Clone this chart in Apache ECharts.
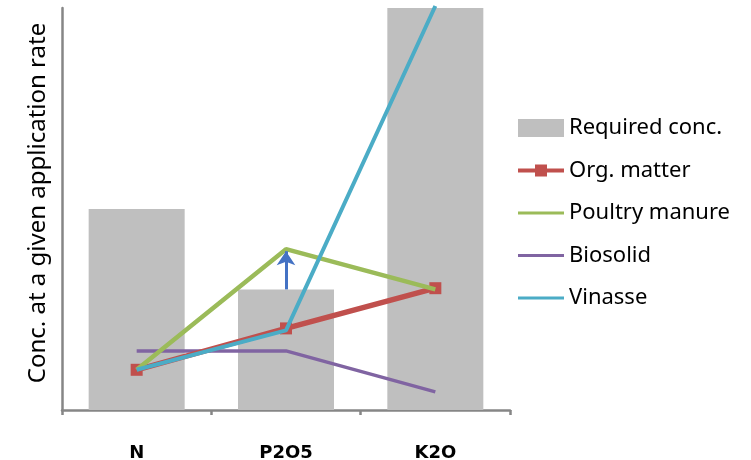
<!DOCTYPE html>
<html>
<head>
<meta charset="utf-8">
<script src="https://cdn.jsdelivr.net/npm/echarts@6/dist/echarts.min.js"></script>
<style>html,body{margin:0;padding:0;background:#fff}#c{width:751px;height:460px}</style>
</head>
<body>
<div id="c"></div>
<script>
var categories = ['N', 'P2O5', 'K2O'];
var requiredConc = [50, 30, 130];
var orgMatter = [10, 20.3, 30.3];
var poultryManure = [10, 40, 30];
var biosolid = [14.7, 14.7, 4.5];
var vinasse = [10, 19.8, 100.5];
var arrowFrom = 30;
var arrowTo = 39.5;
var yTitle = 'Conc. at a given application rate';

var bounds = 'M0,0h0.01v0.01h-0.01z M46,22h-0.01v-0.01h0.01z ';
var lineIcon = 'path://' + bounds + 'M0,9.5h46v3h-46z';
var markerIcon = 'path://' + bounds + 'M0,9h46v4h-46z M17,5h12v12h-12z';
var barIcon = 'path://' + bounds + 'M0,2h46v18h-46z';

var chart = echarts.init(document.getElementById('c'), null, {renderer: 'canvas'});
var font = 'Noto Sans';
chart.setOption({
  animation: false,
  backgroundColor: '#ffffff',
  grid: {left: 62, right: 241, top: 8, bottom: 50, containLabel: false, outerBoundsMode: 'none'},
  legend: {
    orient: 'vertical',
    left: 513,
    top: 112,
    itemGap: 20.5,
    itemWidth: 46,
    itemHeight: 22,
    textStyle: {fontFamily: font, fontSize: 22, lineHeight: 22, color: '#000'},
    data: [
      {name: 'Required conc.', icon: barIcon},
      {name: 'Org. matter', icon: markerIcon},
      {name: 'Poultry manure', icon: lineIcon},
      {name: 'Biosolid', icon: lineIcon},
      {name: 'Vinasse', icon: lineIcon}
    ]
  },
  xAxis: {
    type: 'category',
    data: categories,
    boundaryGap: true,
    axisLine: {lineStyle: {color: '#868686', width: 2.5}},
    axisTick: {show: true, length: 5, lineStyle: {color: '#868686', width: 2.5}},
    axisLabel: {margin: 34, fontFamily: 'DejaVu Sans', fontWeight: 900, fontSize: 18, color: '#000'}
  },
  yAxis: {
    type: 'value',
    min: 0,
    max: 100,
    name: yTitle,
    nameLocation: 'middle',
    nameGap: 12,
    nameTextStyle: {fontFamily: font, fontSize: 24, color: '#000', padding: [0, 0, 0, 12]},
    axisLine: {show: true, lineStyle: {color: '#868686', width: 2.5}},
    axisTick: {show: false},
    axisLabel: {show: false},
    splitLine: {show: false}
  },
  series: [
    {
      name: 'Required conc.', type: 'bar', data: requiredConc, barWidth: 96,
      itemStyle: {color: '#BFBFBF'}, clip: true, z: 1
    },
    {
      name: 'Biosolid', type: 'line', data: biosolid, symbol: 'none',
      lineStyle: {color: '#8064A2', width: 3.5}, itemStyle: {color: '#8064A2'}, z: 2
    },
    {
      name: 'Org. matter', type: 'line', data: orgMatter, symbol: 'rect', symbolSize: 12,
      lineStyle: {color: '#C0504D', width: 5.5}, itemStyle: {color: '#C0504D'}, z: 3
    },
    {
      name: 'Poultry manure', type: 'line', data: poultryManure, symbol: 'none',
      lineStyle: {color: '#9BBB59', width: 4.5}, itemStyle: {color: '#9BBB59'}, z: 4,
      markLine: {
        silent: true,
        symbol: ['none', 'arrow'],
        symbolSize: 14,
        lineStyle: {color: '#4472C4', width: 3, type: 'solid'},
        label: {show: false},
        data: [[{coord: ['P2O5', arrowFrom]}, {coord: ['P2O5', arrowTo]}]]
      }
    },
    {
      name: 'Vinasse', type: 'line', data: vinasse, symbol: 'none', clip: false,
      lineStyle: {color: '#4BACC6', width: 4}, itemStyle: {color: '#4BACC6'}, z: 5
    }
  ]
});
</script>
</body>
</html>
